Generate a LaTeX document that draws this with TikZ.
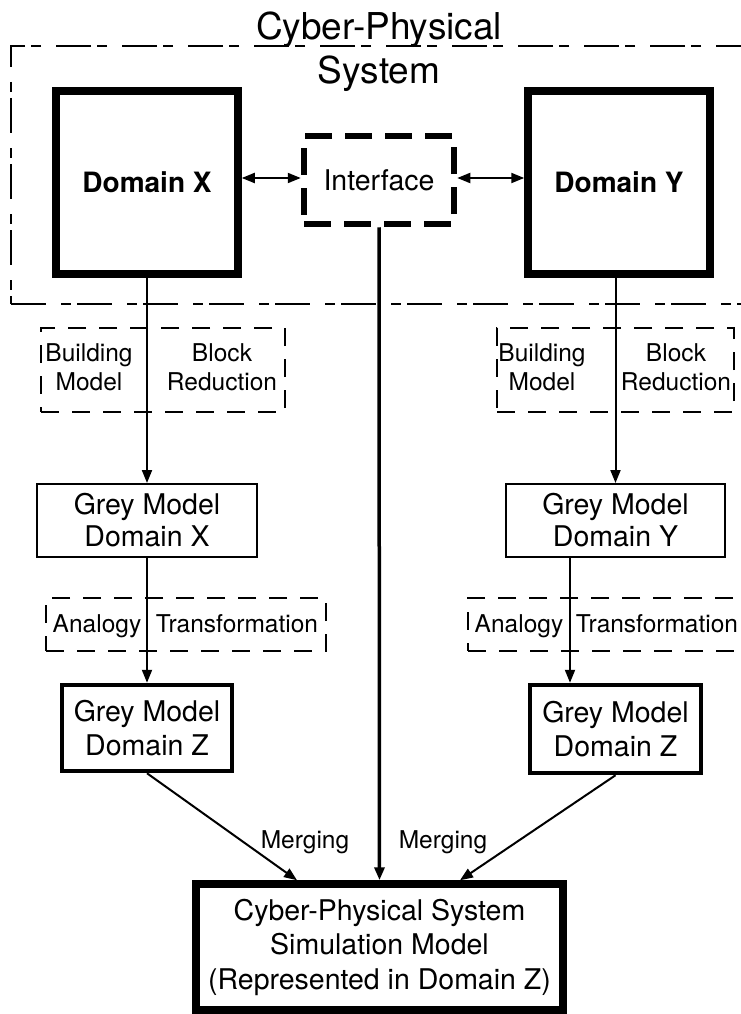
\documentclass[tikz,border=0pt]{standalone}
\usepackage{fontspec}
\setmainfont{TeX Gyre Heros}
\usetikzlibrary{arrows.meta,calc}
\begin{document}
\begin{tikzpicture}[x=1pt,y=-1pt,
  every node/.style={inner sep=0pt},
  >={Triangle[length=13pt,width=10pt]},
  frame/.style={draw, line width=1.8pt, dash pattern=on 35pt off 15pt on 10pt off 6pt, minimum width=769pt, minimum height=258pt},
  domainbox/.style={draw, line width=7.5pt, minimum width=182pt, minimum height=183pt, font=\bfseries\fontsize{28}{33}\selectfont},
  ifacebox/.style={draw, line width=6.5pt, dash pattern=on 27pt off 13pt, minimum width=150pt, minimum height=88pt, font=\fontsize{28.5}{33}\selectfont},
  greybox/.style={draw, line width=2pt, align=center, font=\fontsize{28.5}{32}\selectfont},
  greyzbox/.style={draw, line width=4.5pt, align=center, font=\fontsize{28.5}{34}\selectfont},
  stagebox/.style={draw, line width=2pt, dash pattern=on 18pt off 13pt},
  lbl/.style={align=center, font=\fontsize{24.5}{29}\selectfont},
  finalbox/.style={draw, line width=7.5pt, align=center, minimum width=367pt, minimum height=126pt, font=\fontsize{28.5}{34.5}\selectfont},
  conn/.style={line width=2pt},
  mainconn/.style={line width=3.5pt},
  title/.style={align=center, font=\fontsize{37}{44}\selectfont}
]
\useasboundingbox (0,0) rectangle (741,1014);
\fill[white] (0,0) rectangle (741,1014);
\clip (0,0) rectangle (741,1014);

% outer frame and title
\node[frame] (cps) at (395.5,175) {};
\node[title, anchor=north] (ttl) at (379,12) {Cyber-Physical\\System};

% top row
\node[domainbox] (dx) at (147,182.5) {Domain X};
\node[domainbox] (dy) at (619,182.5) {Domain Y};
\node[ifacebox] (if) at (379,180) {Interface};

% stage boxes
\node[stagebox, minimum width=244pt, minimum height=84pt] (bl) at (163,370) {};
\node[stagebox, minimum width=237pt, minimum height=84pt] (br) at (615.5,370) {};
\node[stagebox, minimum width=280pt, minimum height=53pt] (al) at (186,624.5) {};
\node[stagebox, minimum width=292pt, minimum height=53pt] (ar) at (614,624.5) {};

\node[lbl, anchor=north] (blm) at (89,343) {Building\\Model};
\node[lbl, anchor=north] (blr) at (222,343) {Block\\Reduction};
\node[lbl, anchor=north] (brm) at (542,343) {Building\\Model};
\node[lbl, anchor=north] (brr) at (676,343) {Block\\Reduction};
\node[lbl, anchor=base] (ala) at (97,632) {Analogy};
\node[lbl, anchor=base] (alt) at (237,632) {Transformation};
\node[lbl, anchor=base] (ara) at (519,632) {Analogy};
\node[lbl, anchor=base] (art) at (657,632) {Transformation};

% grey models
\node[greybox, minimum width=220pt, minimum height=73pt] (gx) at (147,520.5) {Grey Model\\Domain X};
\node[greybox, minimum width=219pt, minimum height=73pt] (gy) at (615.5,520.5) {Grey Model\\Domain Y};
\node[greyzbox, minimum width=170pt, minimum height=86pt] (gzl) at (147,728) {Grey Model\\Domain Z};
\node[greyzbox, minimum width=171pt, minimum height=88pt] (gzr) at (615.5,729) {Grey Model\\Domain Z};

% final
\node[finalbox] (fin) at (379.5,947) {Cyber-Physical System\\Simulation Model\\(Represented in Domain Z)};

% merging labels
\node[lbl, anchor=base] (mgl) at (305,848) {Merging};
\node[lbl, anchor=base] (mgr) at (443,848) {Merging};

% helper coordinates
\coordinate (ay) at (0,178);
\coordinate (cx) at (570,0);
\coordinate (ml) at (297,0);
\coordinate (mr) at (460,0);

% connectors
\draw[conn,<->] (dx.east |- ay) -- (if.west |- ay);
\draw[conn,<->] (if.east |- ay) -- (dy.west |- ay);
\draw[conn,->] (dx.south) -- (gx.north);
\draw[conn,->] (dy.south -| gy.north) -- (gy.north);
\draw[conn,->] (gx.south) -- (gzl.north);
\draw[conn,->] (gy.south -| cx) -- (gzr.north -| cx);
\draw[conn,->] (gzl.south) -- (fin.north -| ml);
\draw[conn,->] (gzr.south) -- (fin.north -| mr);
\draw[mainconn,->] (if.south) -- (fin.north);
\end{tikzpicture}
\end{document}
